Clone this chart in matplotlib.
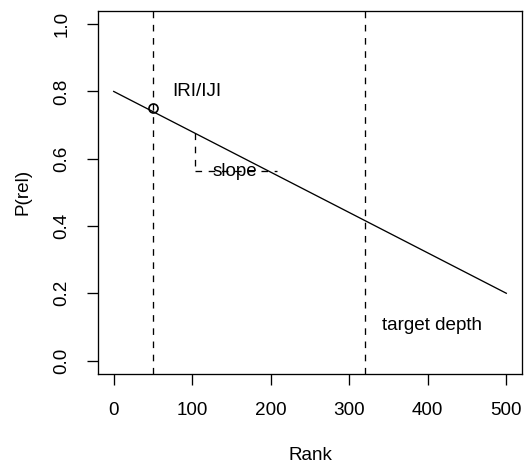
import matplotlib
matplotlib.use("Agg")
import matplotlib.pyplot as plt

plt.rcParams['font.family'] = ['Liberation Sans', 'DejaVu Sans']

# Data
line_x = [0, 500]
line_y = [0.8, 0.2]
point_x = [50]
point_y = [0.75]
vlines_x = [50, 320]
slope_vx = [104, 104]
slope_vy = [0.675, 0.562]
slope_hx = [104, 208]
slope_hy = [0.562, 0.562]
xticks = [0, 100, 200, 300, 400, 500]
yticks = [0.0, 0.2, 0.4, 0.6, 0.8, 1.0]

W, H = 532, 461
fig = plt.figure(figsize=(W / 100, H / 100), dpi=100)
left, right, top, bottom = 98, 522, 10.7, 374
ax = fig.add_axes([left / W, (H - bottom) / H, (right - left) / W, (bottom - top) / H])

ax.plot(line_x, line_y, color='black', lw=0.95)
ax.plot(point_x, point_y, 'o', mfc='none', mec='black', ms=6.5, mew=1.2)
for xv in vlines_x:
    ax.axvline(xv, color='black', lw=0.95, ls=(0, (5, 5)))
ax.plot(slope_vx, slope_vy, color='black', lw=0.95, ls=(0, (5, 5)))
ax.plot(slope_hx, slope_hy, color='black', lw=0.95, ls=(0, (5, 5)))

fs = 13.6
ax.text(74, 0.8, 'IRI/IJI', fontsize=fs, ha='left', va='center')
ax.text(154, 0.562, 'slope', fontsize=fs, ha='center', va='center')
ax.text(342, 0.105, 'target depth', fontsize=fs, ha='left', va='center')

ax.set_xlim(-20, 520)
ax.set_ylim(-0.04, 1.04)
ax.set_xticks(xticks)
ax.set_xticklabels([str(v) for v in xticks])
ax.set_yticks(yticks)
ax.set_yticklabels([f"{v:.1f}" for v in yticks], rotation=90, va='center')
ax.tick_params(axis='both', length=7.8, width=0.95, labelsize=fs, pad=12, direction='out')
for s in ax.spines.values():
    s.set_linewidth(0.95)

fig.text(310 / W, 1 - 455 / H, 'Rank', fontsize=fs, ha='center', va='center')
fig.text(23 / W, 1 - 192 / H, 'P(rel)', fontsize=fs, ha='center', va='center', rotation=90)

fig.savefig('out.png', dpi=100)
